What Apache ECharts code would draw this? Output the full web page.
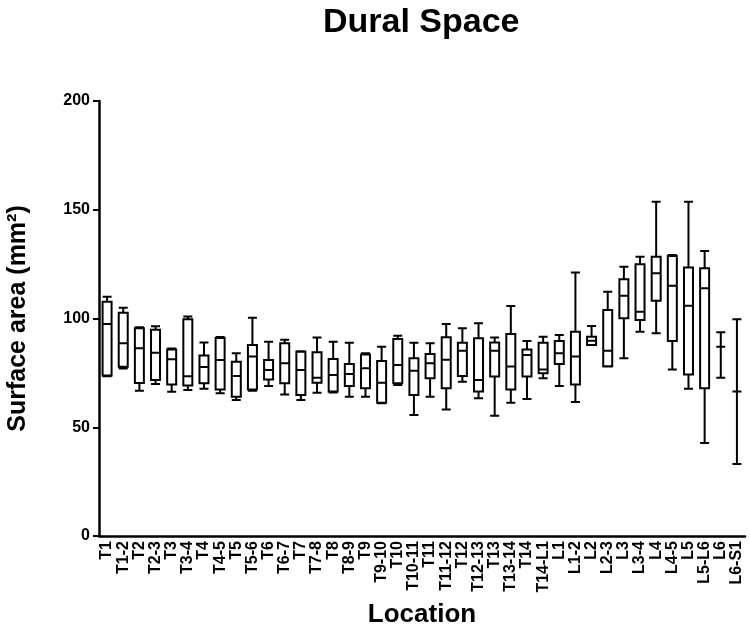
<!DOCTYPE html>
<html>
<head>
<meta charset="utf-8">
<script src="https://cdn.jsdelivr.net/npm/echarts@6/dist/echarts.min.js"></script>
<style>
  html, body { margin: 0; padding: 0; background: #fff; }
  #chart { width: 750px; height: 636px; }
</style>
</head>
<body>
<div id="chart"></div>
<script>
var locations = ['T1', 'T1-2', 'T2', 'T2-3', 'T3', 'T3-4', 'T4', 'T4-5', 'T5', 'T5-6',
  'T6', 'T6-7', 'T7', 'T7-8', 'T8', 'T8-9', 'T9', 'T9-10', 'T10', 'T10-11',
  'T11', 'T11-12', 'T12', 'T12-13', 'T13', 'T13-14', 'T14', 'T14-L1', 'L1', 'L1-2',
  'L2', 'L2-3', 'L3', 'L3-4', 'L4', 'L4-5', 'L5', 'L5-L6', 'L6', 'L6-S1'];

// min, q1, median, q3, max (mm²)
var mins    = [73.5, 77, 66.8, 69.9, 66.3, 67.1, 67.7, 65.6, 62.5, 66.8,
  69, 65.1, 62.5, 65.9, 66, 64, 64, 61, 69.4, 55.6,
  64, 58.2, 70.9, 63.3, 55.3, 61.3, 63, 72.5, 69, 61.6,
  87.8, 77.9, 81.7, 93.9, 93.2, 76.6, 67.7, 42.8, 72.8, 33.1];
var q1s     = [73.8, 77.8, 70.4, 71.7, 69.6, 69.2, 70.2, 67.4, 64, 67.4,
  72, 70.2, 64.8, 70.5, 66.4, 69, 67.9, 61.3, 70.2, 64.8,
  72.5, 67.9, 73.6, 66.4, 73.3, 67.4, 73.3, 74.8, 79.1, 69.7,
  87.8, 78, 100.1, 99.3, 108.2, 89.7, 74.3, 67.9, 87, 66.4];
var medians = [97.5, 88.6, 86.3, 84.3, 81.3, 73.5, 77.7, 80.9, 73.6, 82.5,
  76.3, 79.4, 76.3, 72.8, 74, 74.5, 77.1, 70.5, 78.6, 76,
  79.4, 81, 85.2, 71.7, 85.2, 77.9, 83.2, 76.6, 84, 82.5,
  89.8, 85.2, 110.5, 103.1, 120.8, 115.1, 105.9, 113.9, 87, 66.4];
var q3s     = [107.7, 102.7, 95.5, 94.8, 85.8, 99.6, 83, 91, 80.1, 87.8,
  80.9, 88.6, 84.7, 84.5, 81.4, 79.1, 83.5, 80.5, 90.6, 81.7,
  83.7, 91.4, 88.9, 90.9, 89, 92.9, 85.8, 88.9, 89.7, 93.9,
  91.6, 103.9, 118, 124.9, 128.4, 128.7, 123.5, 123.1, 87, 66.4];
var maxs    = [110, 105, 96, 96.4, 86.2, 100.9, 89, 91.5, 84, 100.4,
  89.3, 90.2, 85, 91.3, 89.3, 88.9, 84, 87, 92.1, 88.9,
  88.6, 97.5, 95.5, 97.8, 91.3, 105.7, 89.7, 91.6, 92.4, 121.2,
  96.6, 112.3, 123.8, 128.4, 153.7, 129.2, 153.7, 131, 93.7, 99.6];

var yTicks = [0, 50, 100, 150, 200];

var boxData = [];
for (var i = 0; i < locations.length; i++) {
  boxData.push([mins[i], q1s[i], medians[i], q3s[i], maxs[i]]);
}

var font = 'Liberation Sans, Arial, sans-serif';
var ec = echarts.init(document.getElementById('chart'));
ec.setOption({
  animation: false,
  backgroundColor: '#fff',
  title: {
    text: 'Dural Space',
    left: 318,
    top: 1,
    textStyle: { fontFamily: font, fontSize: 34, fontWeight: 'bold', color: '#000' }
  },
  grid: { left: 99, right: 5, top: 101, bottom: 100, outerBoundsMode: 'none' },
  xAxis: {
    type: 'category',
    data: locations,
    name: 'Location',
    nameLocation: 'middle',
    nameGap: 66,
    nameTextStyle: { fontFamily: font, fontSize: 26, fontWeight: 'bold', color: '#000' },
    axisLine: { lineStyle: { color: '#000', width: 2.5 } },
    axisTick: { alignWithLabel: true, length: 5, lineStyle: { color: '#000', width: 2 } },
    axisLabel: {
      rotate: 90, interval: 0, margin: 5,
      fontFamily: font, fontSize: 16, fontWeight: 'bold', color: '#000'
    },
    splitLine: { show: false }
  },
  yAxis: {
    type: 'value',
    min: yTicks[0],
    max: yTicks[yTicks.length - 1],
    interval: 50,
    name: 'Surface area (mm²)',
    nameLocation: 'middle',
    nameGap: 68,
    nameTextStyle: { fontFamily: font, fontSize: 25, fontWeight: 'bold', color: '#000' },
    axisLine: { show: true, lineStyle: { color: '#000', width: 2.5 } },
    axisTick: { show: true, length: 6, lineStyle: { color: '#000', width: 2 } },
    axisLabel: { margin: 9, fontFamily: font, fontSize: 16, fontWeight: 'bold', color: '#000' },
    splitLine: { show: false }
  },
  series: [{
    type: 'boxplot',
    data: boxData,
    boxWidth: [9, 9],
    itemStyle: { color: '#fff', borderColor: '#000', borderWidth: 2 }
  }]
});
</script>
</body>
</html>
